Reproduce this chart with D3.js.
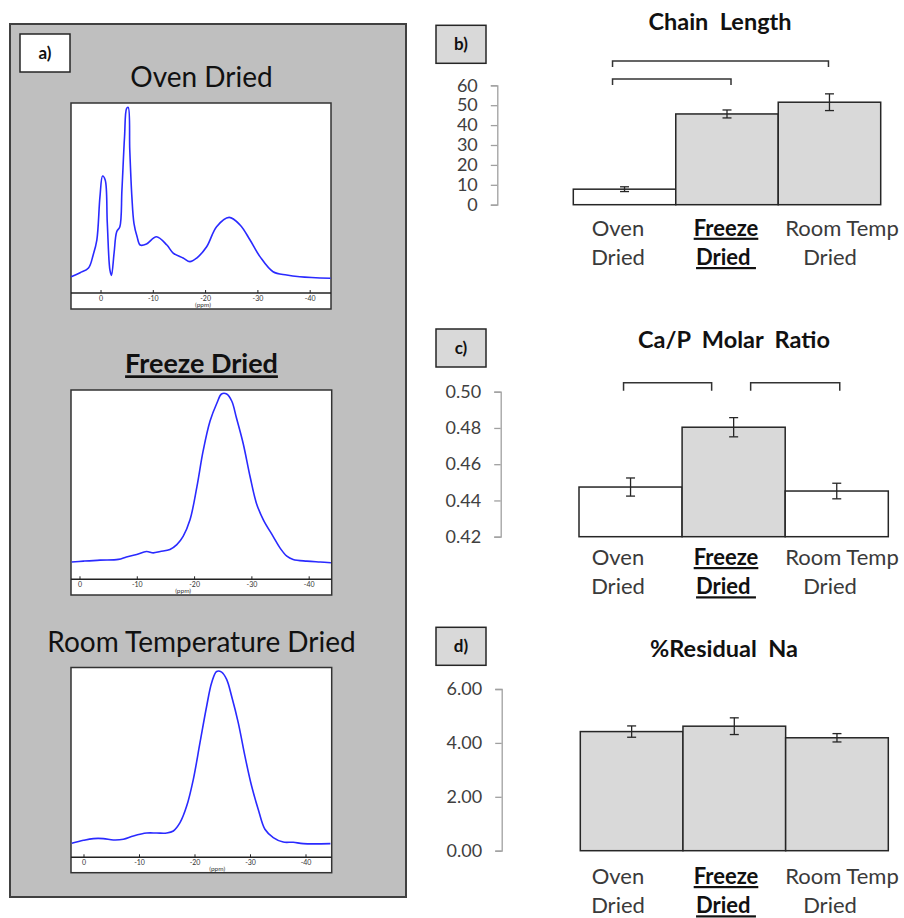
<!DOCTYPE html>
<html>
<head>
<meta charset="utf-8">
<script src="https://cdn.jsdelivr.net/npm/d3@7"></script>
<style>
  body { margin: 0; background: #fff; }
  svg { display: block; }
  text { font-family: Lato, "Open Sans", sans-serif; }
</style>
</head>
<body>
<svg id="fig" width="904" height="918"></svg>
<script>
// ---- 31P NMR spectra: [chemical shift (ppm), relative intensity] ----
const ovenDried = [
  [5.7, 1.9], [4.0, 4.2], [2.4, 6.9], [1.5, 14.5], [0.8, 23.1], [0.2, 48.2],
  [-0.3, 60.1], [-0.8, 57.8], [-1.2, 32.9], [-1.7, 5.8], [-2.0, 2.7], [-2.5, 15.6],
  [-3.0, 27.9], [-3.6, 30.8], [-4.0, 52.0], [-4.5, 82.8], [-4.9, 99.2], [-5.2, 99.8],
  [-5.5, 75.1], [-5.9, 48.2], [-6.3, 32.8], [-6.9, 25.0], [-7.5, 20.2], [-8.7, 20.8],
  [-10.6, 25.0], [-12.6, 20.2], [-13.8, 15.6], [-15.7, 12.7], [-17.0, 10.6], [-18.3, 12.7],
  [-20.2, 19.2], [-22.1, 30.8], [-24.5, 36.2], [-26.6, 31.8], [-28.5, 23.1], [-30.4, 13.5],
  [-32.9, 4.8], [-35.5, 2.9], [-38.0, 1.9], [-43.9, 1.0]
];
const freezeDried = [
  [1.45, 2.5], [-0.6, 3.0], [-3.5, 3.6], [-6.7, 4.0], [-8.1, 5.4], [-9.9, 6.9],
  [-11.6, 8.6], [-12.8, 7.8], [-14.0, 8.6], [-15.7, 9.8], [-16.9, 12.6], [-18.0, 17.4],
  [-19.2, 27.0], [-20.4, 46.1], [-21.5, 67.1], [-22.7, 84.3], [-23.9, 94.8], [-24.7, 100],
  [-25.6, 100], [-26.5, 95.8], [-27.3, 86.2], [-28.5, 71.0], [-29.7, 51.8], [-30.8, 36.5],
  [-32.0, 27.0], [-33.7, 17.4], [-34.9, 10.7], [-36.1, 5.9], [-37.2, 4.0], [-39.6, 3.0],
  [-41.9, 2.5], [-43.8, 2.1]
];
const roomTempDried = [
  [2.2, 0.6], [0.1, 2.3], [-1.7, 3.3], [-3.5, 3.3], [-5.3, 2.5], [-7.1, 2.9],
  [-8.9, 4.8], [-11.3, 6.5], [-13.1, 6.5], [-14.9, 6.5], [-16.1, 7.7], [-17.3, 12.5],
  [-18.5, 22.1], [-19.7, 37.6], [-20.9, 58.8], [-22.1, 79.9], [-23.0, 93.5], [-23.9, 100],
  [-24.8, 99.6], [-25.7, 95.4], [-26.6, 85.7], [-27.8, 70.3], [-29.0, 51.0], [-30.2, 33.7],
  [-31.4, 20.2], [-32.6, 8.7], [-34.1, 3.9], [-35.9, 1.3], [-37.7, 1.2], [-39.5, 0.4],
  [-44.4, 0.4]
];
const spectrumTicks = [0, -10, -20, -30, -40];

// ---- bar chart data ----
const categories = ["Oven Dried", "Freeze Dried", "Room Temp Dried"];
const categoryLines = [["Oven", "Dried"], ["Freeze", "Dried"], ["Room Temp", "Dried"]];
const chainLength = [7.8, 45.6, 51.5];
const chainLengthErr = [1.2, 2.0, 4.2];
const chainTicks = [0, 10, 20, 30, 40, 50, 60];
const caPRatio = [0.4474, 0.4804, 0.4452];
const caPRatioErr = [0.005, 0.0053, 0.0043];
const caPTicks = [0.42, 0.44, 0.46, 0.48, 0.50];
const residualNa = [4.42, 4.62, 4.19];
const residualNaErr = [0.21, 0.31, 0.155];
const naTicks = [0, 2, 4, 6];
const chainBrackets = [[0, 2], [0, 1]];
const caPBrackets = [[0, 1], [1, 2]];

const svg = d3.select("#fig");
const DARK = "#262626";
const BAR_GRAY = "#d9d9d9";

// ================= panel a: spectra =================
svg.append("rect").attr("x", 10).attr("y", 24).attr("width", 396).attr("height", 873)
  .attr("fill", "#bfbfbf").attr("stroke", "#404040").attr("stroke-width", 2);
svg.append("rect").attr("x", 20).attr("y", 34).attr("width", 50).attr("height", 38)
  .attr("fill", "#fff").attr("stroke", DARK).attr("stroke-width", 1.5);
svg.append("text").attr("x", 45).attr("y", 59).attr("text-anchor", "middle")
  .attr("font-size", 17).attr("font-weight", 700).attr("fill", "#111").text("a)");

const spectra = [
  { title: "Oven Dried", bold: false, data: ovenDried, ppm: [5.74, -43.98],
    frame: [71, 103, 331, 309], axisY: 293, titleY: 87, titleSize: 28, unitAt: -19.5 },
  { title: "Freeze Dried", bold: true, data: freezeDried, ppm: [1.57, -43.93],
    frame: [71, 390, 331.7, 595], axisY: 579.3, titleY: 373.3, titleSize: 27, unitAt: -18 },
  { title: "Room Temperature Dried", bold: false, data: roomTempDried, ppm: [2.34, -44.63],
    frame: [71, 667.5, 331.7, 872.7], axisY: 857.3, titleY: 652.3, titleSize: 28, unitAt: -24 }
];

spectra.forEach(s => {
  const [x0, y0, x1, y1] = s.frame;
  const g = svg.append("g");
  const t = g.append("text").attr("x", 201.5).attr("y", s.titleY).attr("text-anchor", "middle")
    .attr("font-size", s.titleSize).attr("fill", "#111").text(s.title);
  if (s.bold) t.attr("font-weight", 700).style("text-decoration", "underline");

  g.append("rect").attr("x", x0).attr("y", y0).attr("width", x1 - x0).attr("height", y1 - y0)
    .attr("fill", "#fff").attr("stroke", "#333").attr("stroke-width", 1.5);

  const x = d3.scaleLinear().domain(s.ppm).range([x0, x1]);
  const y = d3.scaleLinear().domain([0, 100]).range([s.axisY - 13, y0 + 4]);

  g.append("line").attr("x1", x0).attr("x2", x1).attr("y1", s.axisY).attr("y2", s.axisY)
    .attr("stroke", "#222").attr("stroke-width", 1.5);
  const ticks = g.selectAll(".tk").data(spectrumTicks).join("g")
    .attr("transform", d => `translate(${x(d)},${s.axisY})`);
  ticks.append("line").attr("y1", 0).attr("y2", -3).attr("stroke", "#222").attr("stroke-width", 1);
  ticks.append("text").attr("y", 8).attr("text-anchor", "middle").attr("font-size", 7)
    .attr("fill", "#333").text(d => d);
  g.append("text").attr("x", x(s.unitAt)).attr("y", s.axisY + 13.5).attr("text-anchor", "middle")
    .attr("font-size", 6.5).attr("fill", "#333").text("(ppm)");

  const line = d3.line().x(d => x(d[0])).y(d => y(d[1])).curve(d3.curveCatmullRom.alpha(0.5));
  g.append("path").datum(s.data).attr("d", line).attr("fill", "none")
    .attr("stroke", "#2a2aff").attr("stroke-width", 1.6).attr("stroke-linejoin", "round");
});

// ================= panels b-d: bar charts =================
const labelX = d3.scalePoint().domain(categories).range([618, 830]);

function barPanel(cfg) {
  const g = svg.append("g");
  const L = cfg.layout;

  // panel tag
  g.append("rect").attr("x", 436).attr("y", L.boxY).attr("width", 50).attr("height", 38)
    .attr("fill", BAR_GRAY).attr("stroke", DARK).attr("stroke-width", 1.5);
  g.append("text").attr("x", 461).attr("y", L.boxY + 25).attr("text-anchor", "middle")
    .attr("font-size", 17).attr("font-weight", 700).attr("fill", "#111").text(cfg.tag);

  // title
  g.append("text").attr("x", L.titleX).attr("y", L.titleY).attr("text-anchor", "middle")
    .attr("font-size", 23.5).attr("font-weight", 700).attr("fill", "#111")
    .style("white-space", "pre").text(cfg.title);

  const x = d3.scaleBand().domain(categories).range(L.xRange).padding(0);
  const y = d3.scaleLinear().domain(cfg.domain).range(L.yRange);

  // value axis
  const axis = g.append("g").attr("transform", `translate(${L.axisX},0)`)
    .call(d3.axisLeft(y).tickValues(cfg.ticks).tickSize(6.5).tickPadding(13).tickFormat(cfg.fmt));
  axis.select(".domain").attr("stroke", "#a0a0a0").attr("stroke-width", 1.3);
  axis.selectAll(".tick line").attr("stroke", "#a0a0a0").attr("stroke-width", 1.3);
  axis.selectAll(".tick text").attr("font-size", 18).attr("fill", "#404040")
    .attr("font-family", "Lato, 'Open Sans', sans-serif");

  // bars
  g.selectAll(".bar").data(categories).join("rect")
    .attr("x", d => x(d)).attr("width", x.bandwidth())
    .attr("y", (d, i) => y(cfg.values[i]))
    .attr("height", (d, i) => y(cfg.domain[0]) - y(cfg.values[i]))
    .attr("fill", (d, i) => cfg.fills[i]).attr("stroke", DARK).attr("stroke-width", 1.5);

  // error bars
  const eb = g.selectAll(".err").data(categories).join("g")
    .attr("transform", d => `translate(${x(d) + x.bandwidth() / 2},0)`);
  eb.append("line")
    .attr("y1", (d, i) => y(cfg.values[i] - cfg.errs[i]))
    .attr("y2", (d, i) => y(cfg.values[i] + cfg.errs[i]))
    .attr("stroke", DARK).attr("stroke-width", 1.3);
  [-1, 1].forEach(sgn => {
    eb.append("line").attr("x1", -4.5).attr("x2", 4.5)
      .attr("y1", (d, i) => y(cfg.values[i] + sgn * cfg.errs[i]))
      .attr("y2", (d, i) => y(cfg.values[i] + sgn * cfg.errs[i]))
      .attr("stroke", DARK).attr("stroke-width", 1.3);
  });

  // significance brackets
  cfg.brackets.forEach((b, k) => {
    const bl = L.brackets[k];
    const xa = x(categories[b[0]]) + x.bandwidth() / 2 + bl.dl;
    const xb = x(categories[b[1]]) + x.bandwidth() / 2 + bl.dr;
    g.append("path")
      .attr("d", `M${xa},${bl.y + bl.drop}V${bl.y}H${xb}V${bl.y + bl.drop}`)
      .attr("fill", "none").attr("stroke", "#333").attr("stroke-width", 1.5);
  });

  // category labels
  categories.forEach((c, i) => {
    categoryLines[i].forEach((ln, j) => {
      const t = g.append("text")
        .attr("x", labelX(c) + (i === 2 && j === 0 ? 12 : 0) + (i === 1 ? 2 : 0))
        .attr("y", j === 0 ? L.labelY1 : L.labelY2)
        .attr("text-anchor", "middle").attr("font-size", 22).attr("fill", "#3a3a3a")
        .style("white-space", "pre")
        .text(i === 1 && j === 1 ? ln + " " : ln);
      if (i === 1) t.attr("font-weight", 700).attr("fill", "#111").style("text-decoration", "underline");
    });
  });
}

barPanel({
  tag: "b)", title: "Chain  Length",
  values: chainLength, errs: chainLengthErr, ticks: chainTicks, domain: [0, 60],
  fmt: d3.format("d"), fills: ["#fff", BAR_GRAY, BAR_GRAY], brackets: chainBrackets,
  layout: { boxY: 25.3, titleX: 720, titleY: 30, axisX: 497.3, yRange: [204.7, 85.3],
    xRange: [573.3, 880.7], labelY1: 235.7, labelY2: 265,
    brackets: [{ y: 61, drop: 6, dl: -12, dr: -1 }, { y: 79, drop: 6, dl: -12, dr: 4 }] }
});

barPanel({
  tag: "c)", title: "Ca/P  Molar  Ratio",
  values: caPRatio, errs: caPRatioErr, ticks: caPTicks, domain: [0.42, 0.50],
  fmt: d3.format(".2f"), fills: ["#fff", BAR_GRAY, "#fff"], brackets: caPBrackets,
  layout: { boxY: 329, titleX: 734, titleY: 348.3, axisX: 500.7, yRange: [536.7, 391.7],
    xRange: [579, 888.3], labelY1: 565, labelY2: 594.3,
    brackets: [{ y: 382.7, drop: 8, dl: -7, dr: -22 }, { y: 382.7, drop: 8, dl: 17, dr: 3 }] }
});

barPanel({
  tag: "d)", title: "%Residual  Na",
  values: residualNa, errs: residualNaErr, ticks: naTicks, domain: [0, 6],
  fmt: d3.format(".2f"), fills: [BAR_GRAY, BAR_GRAY, BAR_GRAY], brackets: [],
  layout: { boxY: 627.3, titleX: 724, titleY: 656.7, axisX: 501.7, yRange: [850.7, 689],
    xRange: [580.3, 888.3], labelY1: 884, labelY2: 913.3, brackets: [] }
});
</script>
</body>
</html>
